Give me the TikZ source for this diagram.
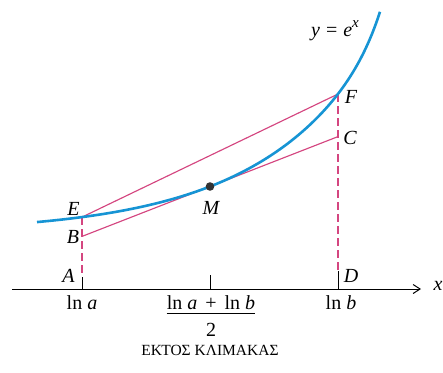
\documentclass[tikz,border=0pt]{standalone}
\usepackage{fontspec}
\setmainfont{Liberation Serif}
\usetikzlibrary{arrows.meta}
\definecolor{curveblue}{RGB}{22,148,212}
\definecolor{chordpink}{RGB}{212,70,128}
\tikzset{
  curvestyle/.style={curveblue, line width=2.6pt},
  chord/.style={chordpink, line width=1.15pt},
  guide/.style={chordpink, line width=1.2pt, dash pattern=on 8pt off 4pt},
  tickline/.style={black, line width=1pt},
  lbl/.style={font=\fontsize{20}{22}\selectfont\itshape, inner sep=0pt},
  axlbl/.style={font=\fontsize{20}{22}\selectfont, inner sep=0pt},
}
\begin{document}
\begin{tikzpicture}[x=1pt, y=-1pt]
\useasboundingbox (0,0) rectangle (443,372);
% points
\coordinate (E) at (82,217.1);
\coordinate (B) at (82,236.4);
\coordinate (M) at (210,186.5);
\coordinate (F) at (338,94);
\coordinate (C) at (338,136.6);
\coordinate (Atick) at (82,277);
\coordinate (Abase) at (82,289);
\coordinate (Mtick) at (210,275);
\coordinate (Mbase) at (210,289);
\coordinate (Dtick) at (338,271);
\coordinate (Dbase) at (338,289);
\coordinate (axl) at (12,289);
\coordinate (axr) at (421,289);
% axis
\draw[tickline, -{Straight Barb[length=7pt,width=9pt]}] (axl) -- (axr);
\draw[tickline] (Abase) -- (Atick);
\draw[tickline] (Mbase) -- (Mtick);
\draw[tickline] (Dbase) -- (Dtick);
% dashed guides
\draw[guide] (E) -- (Atick);
\draw[guide] (F) -- (Dtick);
% chords
\draw[chord] (E) -- (F);
\draw[chord] (B) -- (C);
% curve
\draw[curvestyle] plot[domain=37:380, samples=120, smooth]
  (\x, {289 - (56.1 + 46.4*exp(0.0084*(\x-210)) + 27.4*exp(0.0535*(\x-380)))});
% point M
\fill[black!80] (M) circle (4.3pt);
% labels
\node[lbl] (lE) at (73.5,208.5) {E};
\node[lbl] (lB) at (73,237) {B};
\node[lbl] (lA) at (68.5,276) {A};
\node[lbl] (lD) at (351,276) {D};
\node[lbl] (lM) at (211,207.5) {M};
\node[lbl] (lF) at (351,97) {F};
\node[lbl] (lC) at (350,138) {C};
\node[lbl] (lx) at (438,286) {x};
\node[axlbl] (lna) at (82,303) {ln \textit{a}};
\node[axlbl] (lnb) at (341,303) {ln \textit{b}};
\node[axlbl] (fracnum) at (211,303) {ln \textit{a}\hspace{0.4em}+\hspace{0.4em}ln \textit{b}};
\draw[line width=0.9pt] ([yshift=-3pt]fracnum.south west) -- ([yshift=-3pt]fracnum.south east);
\node[axlbl] (fracden) at (211,330) {2};
\node[axlbl, anchor=base] (eq) at (335,36) {\textit{y}\hspace{0.3em}=\hspace{0.3em}\textit{e}\raisebox{8.5pt}{\fontsize{15}{15}\selectfont\textit{x}}};
\node[font=\fontsize{15.5}{17}\selectfont, inner sep=0pt] (note) at (210,350) {ΕΚΤΟΣ ΚΛΙΜΑΚΑΣ};
\end{tikzpicture}
\end{document}
